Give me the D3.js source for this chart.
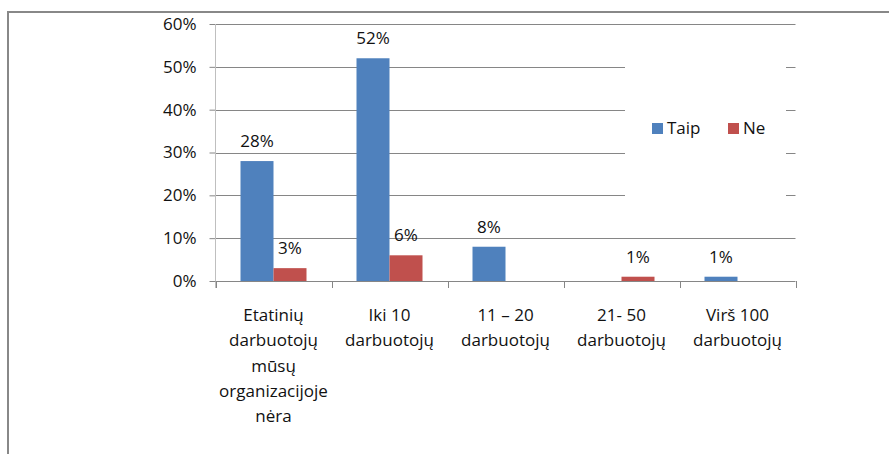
<!DOCTYPE html>
<html><head><meta charset="utf-8">
<script src="https://cdnjs.cloudflare.com/ajax/libs/d3/7.8.5/d3.min.js"></script>
<style>body{margin:0;background:#fff}svg{display:block}text{font-family:"Open Sans",sans-serif;fill:#111}</style>
</head><body><div id="c"></div>
<script>
const categories = ["Etatinių darbuotojų mūsų organizacijoje nėra","Iki 10 darbuotojų","11 – 20 darbuotojų","21- 50 darbuotojų","Virš 100 darbuotojų"];
const categoryLines = [["Etatinių","darbuotojų","mūsų","organizacijoje","nėra"],["Iki 10","darbuotojų"],["11 – 20","darbuotojų"],["21- 50","darbuotojų"],["Virš 100","darbuotojų"]];
const seriesNames = ["Taip","Ne"];
const taip = [28,52,8,0,1];
const ne = [3,6,0,1,0];
const yTicks = [0,10,20,30,40,50,60];
const colors = ["#4F81BD","#C0504D"];

const W=889,H=454;
const svg=d3.select("#c").append("svg").attr("width",W).attr("height",H);
// outer frame
svg.append("line").attr("x1",8).attr("x2",W).attr("y1",12).attr("y2",12).attr("stroke","#888").attr("stroke-width",2);
svg.append("line").attr("x1",8).attr("x2",8).attr("y1",11).attr("y2",H).attr("stroke","#888").attr("stroke-width",2);

const x0=215.5,x1=795.5,yb=281,yt=24;
const x=d3.scaleBand().domain(categories).range([x0,x1]).paddingInner(0).paddingOuter(0);
const y=d3.scaleLinear().domain([0,60]).range([yb,yt]);
const xs=d3.scaleBand().domain(seriesNames).range([0,66]);

// gridlines
svg.append("g").selectAll("line").data(yTicks.filter(d=>d>0)).join("line")
 .attr("x1",x0).attr("x2",x1).attr("y1",d=>Math.round(y(d))+0.5).attr("y2",d=>Math.round(y(d))+0.5)
 .attr("stroke","#868686").attr("stroke-width",1);

// y axis
const ya=svg.append("g").attr("transform",`translate(${x0},0)`)
 .call(d3.axisLeft(y).tickValues(yTicks).tickFormat(d=>d+"%").tickSize(6).tickPadding(13));
ya.select(".domain").remove();
ya.selectAll(".tick line").attr("stroke","#868686");
ya.selectAll(".tick text").attr("font-size",17).style("font-family","Open Sans").attr("fill","#111");
svg.append("line").attr("x1",x0).attr("x2",x0).attr("y1",yt).attr("y2",288).attr("stroke","#bfbfbf");

// x axis
svg.append("line").attr("x1",x0).attr("x2",x1).attr("y1",yb+0.5).attr("y2",yb+0.5).attr("stroke","#868686");
svg.append("g").selectAll("line").data(d3.range(categories.length+1)).join("line")
 .attr("x1",i=>Math.round(x0+i*x.bandwidth())+0.5).attr("x2",i=>Math.round(x0+i*x.bandwidth())+0.5)
 .attr("y1",yb).attr("y2",288).attr("stroke","#868686");

// legend background (hides gridlines)
svg.append("rect").attr("x",625).attr("y",50).attr("width",161).attr("height",165).attr("fill","#fff");

// bars
const series=[taip,ne];
series.forEach((vals,si)=>{
  const pts=vals.map((v,i)=>({v,i}));
  const bx=d=>x(categories[d.i])+x.bandwidth()/2-33+xs(seriesNames[si]);
  const g=svg.append("g");
  g.selectAll("rect").data(pts).join("rect")
   .attr("x",bx).attr("y",d=>y(d.v)).attr("width",xs.bandwidth()).attr("height",d=>yb-y(d.v))
   .attr("fill",colors[si]);
  g.selectAll("text").data(pts.filter(d=>d.v>0)).join("text")
   .attr("x",d=>bx(d)+xs.bandwidth()/2)
   .attr("y",d=>y(d.v)-14).attr("text-anchor","middle").attr("font-size",17).text(d=>d.v+"%");
});

// x labels
categoryLines.forEach((lines,i)=>{
  const t=svg.append("text").attr("text-anchor","middle").attr("font-size",17)
   .attr("x",x(categories[i])+x.bandwidth()/2).attr("y",yb+40);
  lines.forEach((l,j)=>t.append("tspan").attr("x",x(categories[i])+x.bandwidth()/2).attr("dy",j?25.3:0).text(l));
});

// legend
const lg=svg.append("g");
const lx=[652,728];
seriesNames.forEach((n,i)=>{
  lg.append("rect").attr("x",lx[i]).attr("y",123).attr("width",11).attr("height",11).attr("fill",colors[i]);
  lg.append("text").attr("x",lx[i]+15).attr("y",134).attr("font-size",17).text(n);
});
</script></body></html>
